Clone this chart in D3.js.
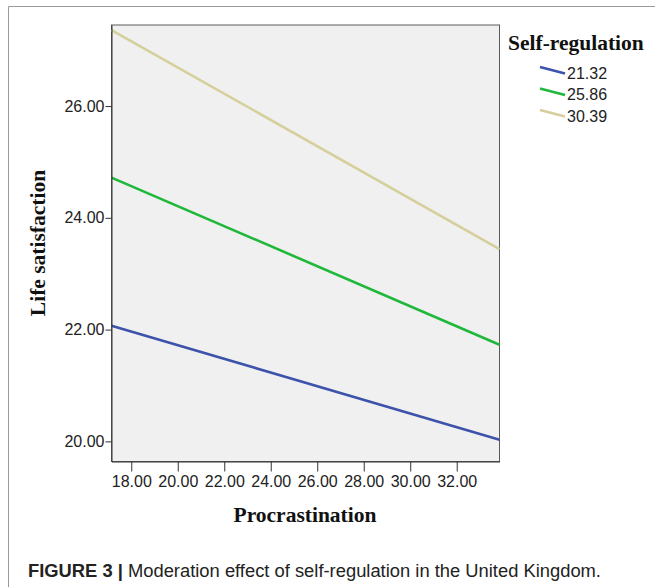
<!DOCTYPE html>
<html><head><meta charset="utf-8">
<script src="https://cdn.jsdelivr.net/npm/d3@7"></script>
<style>html,body{margin:0;padding:0;background:#fff;}svg{display:block;}</style>
</head><body>
<script>
const procrastination = [17.15, 33.84];
const seriesNames = ["21.32", "25.86", "30.39"];
const lifeSat2132 = [22.07, 20.03];
const lifeSat2586 = [24.72, 21.73];
const lifeSat3039 = [27.36, 23.44];
const seriesColors = ["#3d53ab", "#1fb83a", "#d4cf9b"];
const xTicks = [18, 20, 22, 24, 26, 28, 30, 32];
const yTicks = [20, 22, 24, 26];
const xDomain = [17.15, 33.84];
const yDomain = [19.64, 27.45];

const W = 655, H = 587;
const svg = d3.select("body").append("svg").attr("width", W).attr("height", H);

// outer frame
svg.append("line").attr("x1", 8.5).attr("y1", 6.5).attr("x2", 655).attr("y2", 6.5).attr("stroke", "#9a9a9a");
svg.append("line").attr("x1", 8.5).attr("y1", 6.5).attr("x2", 8.5).attr("y2", 587).attr("stroke", "#9a9a9a");

const L = 111.5, R = 499.5, T = 25, B = 461.5;
const x = d3.scaleLinear().domain(xDomain).range([L, R]);
const y = d3.scaleLinear().domain(yDomain).range([B, T]);

svg.append("rect").attr("x", L).attr("y", T).attr("width", R - L).attr("height", B - T)
  .attr("fill", "#f0f0f0").attr("stroke", "#5a5a5a").attr("stroke-width", 1);

const series = [lifeSat2132, lifeSat2586, lifeSat3039];
const line = d3.line().x(d => x(d[0])).y(d => y(d[1]));
series.forEach((s, i) => {
  svg.append("path").datum(procrastination.map((p, j) => [p, s[j]]))
    .attr("d", line).attr("fill", "none").attr("stroke", seriesColors[i]).attr("stroke-width", 2.6);
});

const tickFont = "Arial, 'Liberation Sans', sans-serif";
// axes
const xAxis = d3.axisBottom(x).tickValues(xTicks).tickFormat(d3.format(".2f")).tickSize(10).tickSizeOuter(0);
const gx = svg.append("g").attr("transform", `translate(0,${B})`).call(xAxis);
gx.select(".domain").attr("stroke", "#333");
gx.selectAll(".tick line").attr("stroke", "#333");
gx.selectAll(".tick text").attr("font-family", tickFont).attr("font-size", 16)
  .attr("fill", "#222").attr("dy", "0.71em").attr("y", 14);

const yAxis = d3.axisLeft(y).tickValues(yTicks).tickFormat(d3.format(".2f")).tickSize(6).tickSizeOuter(0);
const gy = svg.append("g").attr("transform", `translate(${L},0)`).call(yAxis);
gy.select(".domain").attr("stroke", "#333");
gy.selectAll(".tick line").attr("stroke", "#333");
gy.selectAll(".tick text").attr("font-family", tickFont).attr("font-size", 16)
  .attr("fill", "#222").attr("x", -7);

const serif = "'Liberation Serif', 'Times New Roman', serif";
// axis titles
svg.append("text").attr("x", 305).attr("y", 522).attr("text-anchor", "middle")
  .attr("font-family", serif).attr("font-weight", "bold")
  .attr("font-size", 21.5).attr("fill", "#111").text("Procrastination");
svg.append("text").attr("transform", `translate(45,243) rotate(-90)`).attr("text-anchor", "middle")
  .attr("font-family", serif).attr("font-weight", "bold")
  .attr("font-size", 21.5).attr("fill", "#111").text("Life satisfaction");

// legend
svg.append("text").attr("x", 508).attr("y", 50)
  .attr("font-family", serif).attr("font-weight", "bold")
  .attr("font-size", 21.5).attr("fill", "#111").text("Self-regulation");
const legRows = [73, 94.5, 116];
seriesNames.forEach((n, i) => {
  const cy = legRows[i];
  svg.append("line").attr("x1", 540).attr("y1", cy - 6).attr("x2", 565).attr("y2", cy + 0.5)
    .attr("stroke", seriesColors[i]).attr("stroke-width", 2.6);
  svg.append("text").attr("x", 567).attr("y", cy).attr("dy", "0.35em")
    .attr("font-family", tickFont).attr("font-size", 16)
    .attr("fill", "#222").text(n);
});

// caption
const cap = svg.append("text").attr("x", 28).attr("y", 577)
  .attr("font-family", "'Liberation Sans', Arial, sans-serif").attr("font-size", 17.5).attr("fill", "#222");
cap.append("tspan").attr("font-weight", "bold").text("FIGURE 3");
cap.append("tspan").text(" | ").attr("font-weight", "bold");
cap.append("tspan").text("Moderation effect of self-regulation in the United Kingdom.");
cap.attr("textLength", 573).attr("lengthAdjust", "spacingAndGlyphs");
</script>
</body></html>
